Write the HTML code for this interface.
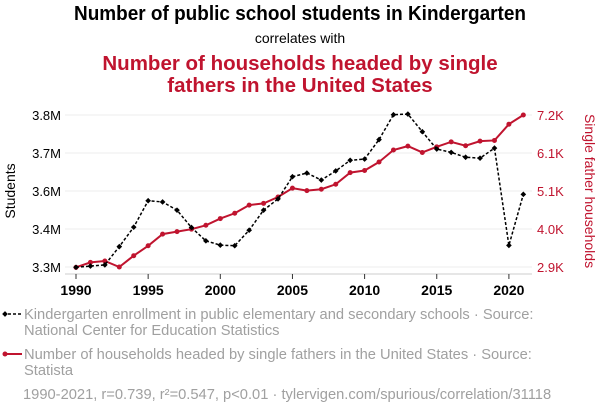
<!DOCTYPE html>
<html><head><meta charset="utf-8"><style>
html,body{margin:0;padding:0;background:#fff;width:600px;height:414px;overflow:hidden}
svg{display:block;font-family:"Liberation Sans",Arial,sans-serif}
</style></head><body>
<svg id="chart" width="600" height="414" viewBox="0 0 600 414">
<text x="300" y="20" text-anchor="middle" font-size="20.5" font-weight="bold" fill="#000" textLength="452" lengthAdjust="spacingAndGlyphs">Number of public school students in Kindergarten</text>
<text x="300" y="43" text-anchor="middle" font-size="14" fill="#000">correlates with</text>
<text x="300" y="70" text-anchor="middle" font-size="20.5" font-weight="bold" fill="#c0142f">Number of households headed by single</text>
<text x="300" y="92" text-anchor="middle" font-size="20.5" font-weight="bold" fill="#c0142f">fathers in the United States</text>
<g id="grid"></g>
<g id="axes"></g>
<g id="marks"></g>
<text transform="translate(15,191) rotate(-90)" text-anchor="middle" font-size="14" fill="#000">Students</text>
<text transform="translate(585,191) rotate(90)" text-anchor="middle" font-size="14" fill="#c0142f">Single father households</text>
<g>
<line x1="3" y1="314" x2="22" y2="314" stroke="#000" stroke-width="1.5" stroke-dasharray="3,2"/>
<rect x="3" y="312" width="4" height="4" transform="rotate(45 5 314)" fill="#000"/>
<text x="24" y="319" font-size="14.7" fill="#a0a0a0">Kindergarten enrollment in public elementary and secondary schools · Source:</text>
<text x="24" y="335" font-size="14.7" fill="#a0a0a0">National Center for Education Statistics</text>
</g>
<g>
<line x1="3" y1="354" x2="22" y2="354" stroke="#c0142f" stroke-width="2"/>
<circle cx="5" cy="354" r="2.5" fill="#c0142f"/>
<text x="24" y="359" font-size="14.7" fill="#a0a0a0">Number of households headed by single fathers in the United States · Source:</text>
<text x="24" y="375" font-size="14.7" fill="#a0a0a0">Statista</text>
</g>
<text x="23" y="399" font-size="14.7" fill="#a0a0a0">1990-2021, r=0.739, r²=0.547, p&lt;0.01 · tylervigen.com/spurious/correlation/31118</text>
</svg>
<script>
const years=[1990,1991,1992,1993,1994,1995,1996,1997,1998,1999,2000,2001,2002,2003,2004,2005,2006,2007,2008,2009,2010,2011,2012,2013,2014,2015,2016,2017,2018,2019,2020,2021];
const students=[3.299,3.303,3.307,3.367,3.431,3.518,3.514,3.487,3.430,3.386,3.372,3.370,3.421,3.487,3.524,3.597,3.609,3.586,3.616,3.651,3.655,3.719,3.801,3.803,3.745,3.688,3.677,3.661,3.658,3.691,3.371,3.539];
const fathers=[2.89,3.03,3.07,2.90,3.22,3.50,3.83,3.90,3.97,4.08,4.27,4.42,4.65,4.70,4.88,5.13,5.06,5.10,5.24,5.57,5.63,5.87,6.21,6.32,6.14,6.30,6.44,6.33,6.46,6.48,6.94,7.20];
const xTicks=[1990,1995,2000,2005,2010,2015,2020];
const leftTicks=[3.3,3.425,3.55,3.675,3.8];
const leftLabels=["3.3M","3.4M","3.6M","3.7M","3.8M"];
const rightTicks=[2.9,3.975,5.05,6.125,7.2];
const rightLabels=["2.9K","4.0K","5.1K","6.1K","7.2K"];
const NS="http://www.w3.org/2000/svg";
const x=y=>76+(y-1990)*14.43;
const yL=v=>267-(v-3.3)/0.5*152;
const yR=v=>267-(v-2.9)/4.3*152;
function mk(tag,attrs,parent){const e=document.createElementNS(NS,tag);for(const k in attrs)e.setAttribute(k,attrs[k]);parent.appendChild(e);return e;}
const grid=document.getElementById('grid'),axes=document.getElementById('axes'),marks=document.getElementById('marks');
leftTicks.forEach((t,i)=>{
 const g=mk('line',{x1:65,x2:532,y1:yL(t),y2:yL(t),stroke:'#eeeeee','stroke-width':1},grid);
 
 
 const l=mk('text',{x:61,y:yL(t)+5,'text-anchor':'end','font-size':13,fill:'#000'},axes);l.textContent=leftLabels[i];
 
 
});
rightTicks.forEach((t,i)=>{
 const l=mk('text',{x:537,y:yR(t)+5,'font-size':13,fill:'#c0142f'},axes);l.textContent=rightLabels[i];
 
 
});
const ax=mk('line',{x1:65,x2:532,y1:274,y2:274,stroke:'#ccc','stroke-width':1},axes);


xTicks.forEach(t=>{
 const tk=mk('line',{x1:x(t),x2:x(t),y1:274,y2:279,stroke:'#333','stroke-width':1},axes);
 
 
 const l=mk('text',{x:x(t),y:295,'text-anchor':'middle','font-size':14,'font-weight':'bold',fill:'#000'},axes);l.textContent=t;
 
 
});
const rp=mk('polyline',{points:years.map((y,i)=>x(y)+','+yR(fathers[i])).join(' '),fill:'none',stroke:'#c0142f','stroke-width':2},marks);


years.forEach((y,i)=>{const c=mk('circle',{cx:x(y),cy:yR(fathers[i]),r:2.5,fill:'#c0142f'},marks);
 
 });
const bp=mk('polyline',{points:years.map((y,i)=>x(y)+','+yL(students[i])).join(' '),fill:'none',stroke:'#000','stroke-width':1.5,'stroke-dasharray':'3,2'},marks);


years.forEach((y,i)=>{const cx=x(y),cy=yL(students[i]);
 const d=mk('rect',{x:cx-2,y:cy-2,width:4,height:4,transform:`rotate(45 ${cx} ${cy})`,fill:'#000'},marks);
 
 });
</script>
</body></html>
